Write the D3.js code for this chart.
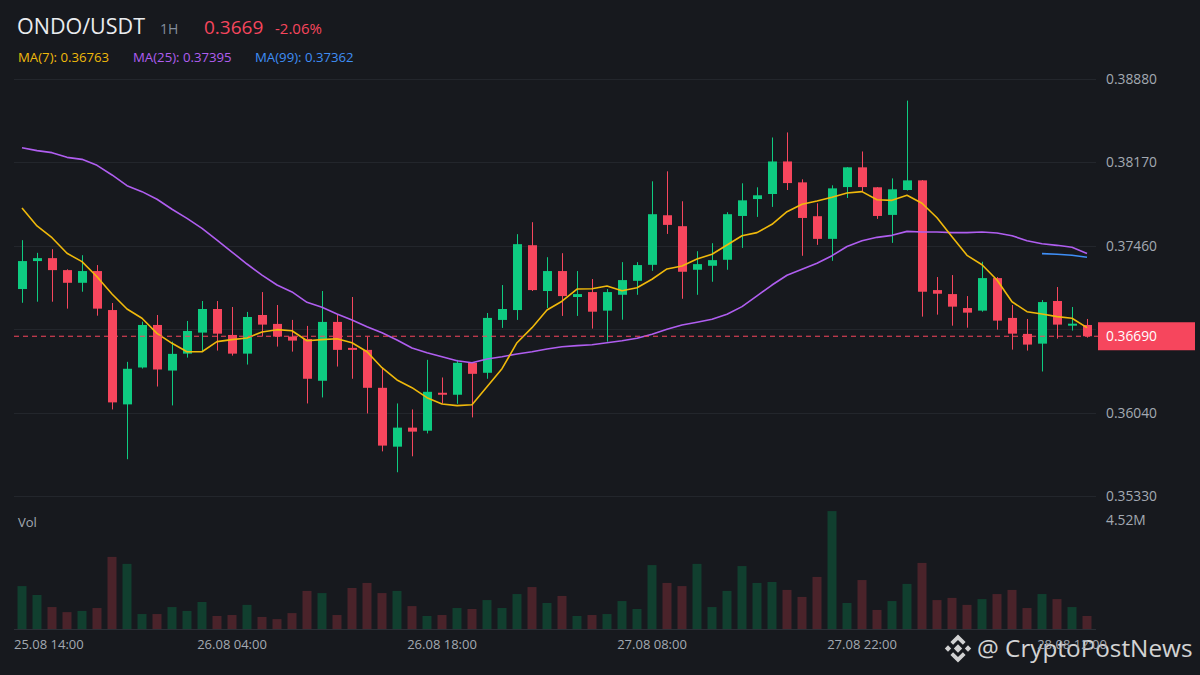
<!DOCTYPE html>
<html><head><meta charset="utf-8">
<script src="https://cdn.jsdelivr.net/npm/d3@7"></script>
<style>html,body{margin:0;padding:0;background:#17191e;} svg{display:block;}</style>
</head><body><svg id="c" width="1200" height="675"></svg>
<script>
// ---- data (ONDO/USDT, 1H) ----
const openP  = [0.37092,0.37330,0.37355,0.37253,0.37145,0.37245,0.36913,0.36110,0.36424,0.36786,0.36398,0.36542,0.36721,0.36922,0.36701,0.36542,0.36871,0.36795,0.36687,0.36667,0.36311,0.36812,0.36591,0.36574,0.36251,0.35750,0.35912,0.35886,0.36209,0.36192,0.36464,0.36379,0.36829,0.36913,0.37465,0.37075,0.37245,0.37024,0.37066,0.36908,0.37043,0.37162,0.37298,0.37720,0.37627,0.37256,0.37290,0.37341,0.37714,0.37858,0.37901,0.38178,0.38000,0.37712,0.37519,0.37960,0.38128,0.37958,0.37723,0.37935,0.38017,0.37083,0.37049,0.36930,0.36908,0.37185,0.36846,0.36710,0.36627,0.36990,0.36780,0.36786];
const highP  = [0.37508,0.37400,0.37431,0.37260,0.37380,0.37296,0.36973,0.36472,0.36814,0.36871,0.36644,0.36820,0.36990,0.36990,0.36939,0.36897,0.37066,0.36956,0.36829,0.36778,0.37075,0.36871,0.37024,0.36687,0.36421,0.36118,0.36067,0.36489,0.36339,0.36489,0.36470,0.36888,0.37126,0.37559,0.37661,0.37363,0.37397,0.37245,0.37177,0.37092,0.37321,0.37321,0.38009,0.38094,0.37839,0.37414,0.37482,0.37746,0.37992,0.37958,0.38382,0.38425,0.38026,0.37822,0.37975,0.38130,0.38263,0.37960,0.38034,0.38696,0.38020,0.37194,0.37211,0.37032,0.37324,0.37194,0.36956,0.36837,0.36998,0.37109,0.36939,0.36837];
const lowP   = [0.36975,0.36984,0.36984,0.36925,0.37069,0.36865,0.36067,0.35643,0.36415,0.36262,0.36101,0.36508,0.36559,0.36568,0.36525,0.36449,0.36687,0.36602,0.36559,0.36118,0.36169,0.36432,0.36328,0.36033,0.35710,0.35532,0.35668,0.35863,0.36115,0.36115,0.35999,0.36328,0.36761,0.36829,0.37075,0.36930,0.36863,0.36863,0.36755,0.36644,0.36831,0.37043,0.37247,0.37561,0.37009,0.37043,0.37154,0.37256,0.37442,0.37706,0.37791,0.37935,0.37375,0.37468,0.37332,0.37867,0.37918,0.37689,0.37485,0.37930,0.36857,0.36874,0.36780,0.36763,0.36899,0.36746,0.36576,0.36568,0.36390,0.36670,0.36738,0.36678];
const closeP = [0.37330,0.37355,0.37253,0.37145,0.37245,0.36925,0.36127,0.36413,0.36786,0.36407,0.36540,0.36735,0.36922,0.36712,0.36542,0.36854,0.36789,0.36687,0.36653,0.36328,0.36812,0.36574,0.36574,0.36251,0.35759,0.35912,0.35878,0.36217,0.36192,0.36464,0.36370,0.36846,0.36922,0.37474,0.37083,0.37245,0.37032,0.37049,0.36899,0.37066,0.37168,0.37296,0.37729,0.37638,0.37239,0.37304,0.37338,0.37729,0.37847,0.37890,0.38178,0.37994,0.37697,0.37519,0.37949,0.38128,0.37960,0.37714,0.37941,0.38017,0.37069,0.37052,0.36942,0.36891,0.37185,0.36823,0.36712,0.36619,0.36981,0.36789,0.36797,0.36690];
const volumeM = [1.78,1.41,0.91,0.70,0.75,0.87,2.99,2.70,0.62,0.62,0.91,0.75,1.12,0.54,0.58,1.00,0.50,0.41,0.66,1.58,1.49,0.58,1.70,1.91,1.49,1.58,0.95,0.54,0.58,0.87,0.83,1.20,0.87,1.45,1.74,1.08,1.37,0.54,0.58,0.62,1.16,0.83,2.65,1.91,1.78,2.70,0.91,1.58,2.61,1.91,1.95,1.62,1.33,2.16,4.89,1.08,2.03,0.79,1.16,1.87,2.74,1.20,1.29,1.00,1.24,1.45,1.62,0.87,1.45,1.24,0.91,0.54];
const ma7  = [0.37782,0.37629,0.37529,0.37396,0.37325,0.37197,0.37050,0.36922,0.36843,0.36715,0.36630,0.36558,0.36558,0.36644,0.36661,0.36675,0.36726,0.36746,0.36737,0.36652,0.36661,0.36669,0.36635,0.36558,0.36422,0.36318,0.36252,0.36167,0.36113,0.36099,0.36107,0.36261,0.36414,0.36635,0.36763,0.36913,0.36988,0.37092,0.37095,0.37118,0.37078,0.37103,0.37175,0.37263,0.37288,0.37348,0.37388,0.37467,0.37546,0.37572,0.37643,0.37750,0.37813,0.37841,0.37873,0.37910,0.37921,0.37852,0.37847,0.37890,0.37822,0.37699,0.37538,0.37379,0.37299,0.37169,0.36984,0.36899,0.36879,0.36857,0.36843,0.36763];
const ma25 = [0.38295,0.38270,0.38253,0.38213,0.38196,0.38145,0.38063,0.37972,0.37921,0.37856,0.37771,0.37694,0.37609,0.37509,0.37407,0.37305,0.37211,0.37126,0.37067,0.36979,0.36937,0.36879,0.36828,0.36771,0.36720,0.36658,0.36590,0.36550,0.36516,0.36482,0.36465,0.36496,0.36516,0.36539,0.36558,0.36582,0.36601,0.36610,0.36618,0.36635,0.36652,0.36673,0.36707,0.36749,0.36786,0.36809,0.36834,0.36877,0.36942,0.37033,0.37126,0.37209,0.37260,0.37311,0.37376,0.37454,0.37503,0.37532,0.37549,0.37583,0.37577,0.37577,0.37572,0.37572,0.37577,0.37569,0.37546,0.37503,0.37478,0.37464,0.37447,0.37395];
const ma99 = [null,null,null,null,null,null,null,null,null,null,null,null,null,null,null,null,null,null,null,null,null,null,null,null,null,null,null,null,null,null,null,null,null,null,null,null,null,null,null,null,null,null,null,null,null,null,null,null,null,null,null,null,null,null,null,null,null,null,null,null,null,null,null,null,null,null,null,null,0.37393,0.37388,0.37379,0.37362];
const priceTicks = [0.38880,0.38170,0.37460,0.36750,0.36040,0.35330];
const lastPrice = 0.3669;
const changePct = "-2.06%";
const volTickLabel = "4.52M";
const volTickValue = 4.52;
const timeTickIdx = [0,14,28,42,56,70];
const startTime = new Date(2025,7,25,14,0,0);

// ---- drawing ----
const W=1200,H=675;
const UP="#0ecb81", DN="#f6465d";
const VUP="#113f2f", VDN="#4a232a";
const GRID="#23262c";
const TXT="#a3a9b2";
const FONT="'Open Sans', 'Noto Sans', sans-serif";
const svg=d3.select('#c');
svg.append('rect').attr('width',W).attr('height',H).attr('fill','#17191e');

const n = closeP.length;
const times = d3.range(n).map(i=>d3.timeHour.offset(startTime,i));
const x = d3.scaleBand().domain(d3.range(n)).range([14.5,1094.5]).paddingInner(0.4).paddingOuter(0.2);
const cx = i => x(i) + x.bandwidth()/2;
const y = d3.scaleLinear().domain([0.3533,0.3888]).range([496,79]);
const yv = d3.scaleLinear().domain([0,volTickValue]).range([629,520]);

// grid
svg.append('g').selectAll('line').data(priceTicks).join('line')
  .attr('x1',14).attr('x2',1096).attr('y1',d=>Math.round(y(d))+0.5).attr('y2',d=>Math.round(y(d))+0.5)
  .attr('stroke',GRID).attr('stroke-width',1);
svg.append('line').attr('x1',14).attr('x2',1096).attr('y1',629.5).attr('y2',629.5).attr('stroke','#2b2f36');

// volume bars
svg.append('g').selectAll('rect').data(volumeM).join('rect')
  .attr('x',(d,i)=>x(i)).attr('width',x.bandwidth())
  .attr('y',d=>yv(d)).attr('height',d=>yv(0)-yv(d))
  .attr('fill',(d,i)=>closeP[i]>=openP[i]?VUP:VDN);

// candles
const cg = svg.append('g');
const idx = d3.range(n);
cg.selectAll('line').data(idx).join('line')
  .attr('x1',i=>Math.round(cx(i))+0.5).attr('x2',i=>Math.round(cx(i))+0.5)
  .attr('y1',i=>y(highP[i])).attr('y2',i=>y(lowP[i]))
  .attr('stroke',i=>closeP[i]>=openP[i]?UP:DN).attr('stroke-width',1);
cg.selectAll('rect').data(idx).join('rect')
  .attr('x',i=>Math.round(cx(i))+0.5-4.5).attr('width',9)
  .attr('y',i=>y(Math.max(openP[i],closeP[i])))
  .attr('height',i=>Math.max(1.5,Math.abs(y(openP[i])-y(closeP[i]))))
  .attr('fill',i=>closeP[i]>=openP[i]?UP:DN);

// MA lines
const line = d3.line().defined(d=>d.v!=null).x(d=>cx(d.i)).y(d=>y(d.v)).curve(d3.curveLinear);
[[ma25,'#b05ef0'],[ma7,'#f0b90b'],[ma99,'#3f8ef5']].forEach(([arr,col])=>{
  svg.append('path').datum(arr.map((v,i)=>({i,v}))).attr('d',line)
    .attr('fill','none').attr('stroke',col).attr('stroke-width',1.6).attr('stroke-linejoin','round');
});

// last price dashed line
svg.append('line').attr('x1',14).attr('x2',1098).attr('y1',y(lastPrice)).attr('y2',y(lastPrice))
  .attr('stroke',DN).attr('stroke-width',1).attr('stroke-dasharray','5,4');

// y axis labels (the tick hidden behind the last-price tag is not labelled)
const hiddenTick = priceTicks.filter(t=>Math.abs(y(t)-y(lastPrice))<16);
const yAxis = d3.axisRight(y).tickValues(priceTicks.filter(t=>!hiddenTick.includes(t)))
  .tickFormat(d3.format('.5f')).tickSize(0).tickPadding(0);
const ya = svg.append('g').attr('transform','translate(1106,0)').call(yAxis);
ya.select('.domain').remove();
ya.selectAll('text').attr('fill',TXT).attr('font-size',13.8).attr('font-family',FONT);

// last price tag
svg.append('rect').attr('x',1098).attr('y',y(lastPrice)-14).attr('width',97).attr('height',28).attr('fill',DN);
svg.append('text').attr('x',1106).attr('y',y(lastPrice)).attr('dy','0.36em').text(d3.format('.5f')(lastPrice))
  .attr('fill','#ffffff').attr('font-size',13.8).attr('font-family',FONT);

// volume label
svg.append('text').attr('x',1106).attr('y',yv(volTickValue)).attr('dy','0.36em').text(volTickLabel)
  .attr('fill',TXT).attr('font-size',13.8).attr('font-family',FONT);
svg.append('text').attr('x',18).attr('y',527).text('Vol').attr('fill',TXT).attr('font-size',13).attr('font-family',FONT);

// watermark (drawn below the time axis labels)
const wm = svg.append('g').attr('opacity',0.9);
const LOGO='#e6e6e6';
const lg = wm.append('g').attr('transform','translate(958,648.5)').attr('fill',LOGO);
lg.append('path').attr('d','M0,-4.2L4.2,0L0,4.2L-4.2,0Z');
lg.append('path').attr('d','M-10,-3.2L-6.8,0L-10,3.2L-13.2,0Z');
lg.append('path').attr('d','M10,-3.2L13.2,0L10,3.2L6.8,0Z');
lg.append('path').attr('d','M0,-14L7.6,-6.4L4.9,-3.7L0,-8.6L-4.9,-3.7L-7.6,-6.4Z');
lg.append('path').attr('d','M0,14L7.6,6.4L4.9,3.7L0,8.6L-4.9,3.7L-7.6,6.4Z');
wm.append('text').attr('x',977).attr('y',657).text('@ CryptoPostNews').attr('fill','#e8e8e8')
  .attr('font-size',24.3).attr('font-family',FONT);

// x axis
const fmt = d3.timeFormat('%d.%m %H:%M');
const xAxis = d3.axisBottom(x).tickValues(timeTickIdx).tickFormat(i=>fmt(times[i])).tickSize(0).tickPadding(0);
const xa = svg.append('g').attr('transform','translate(0,640)').call(xAxis);
xa.select('.domain').remove();
xa.selectAll('text').attr('fill',TXT).attr('font-size',13).attr('font-family',FONT);
xa.selectAll('.tick').filter(d=>d===0).select('text').attr('text-anchor','start').attr('x',-8);

// header
const hdr = svg.append('g').attr('font-family',FONT);
hdr.append('text').attr('x',17).attr('y',34).text('ONDO/USDT').attr('fill','#eaecef').attr('font-size',21.5);
hdr.append('text').attr('x',160).attr('y',34).text('1H').attr('fill','#848e9c').attr('font-size',14);
hdr.append('text').attr('x',204).attr('y',34).text(d3.format('.4f')(lastPrice)).attr('fill',DN).attr('font-size',19);
hdr.append('text').attr('x',275).attr('y',34).text(changePct).attr('fill',DN).attr('font-size',15);
const maLbl = [['MA(7): ',ma7,'#f0b90b',18],['MA(25): ',ma25,'#b05ef0',133],['MA(99): ',ma99,'#3f8ef5',255]];
maLbl.forEach(([t,arr,col,xx])=>{
  hdr.append('text').attr('x',xx).attr('y',62).text(t+d3.format('.5f')(arr[arr.length-1])).attr('fill',col).attr('font-size',13.2);
});
</script></body></html>
